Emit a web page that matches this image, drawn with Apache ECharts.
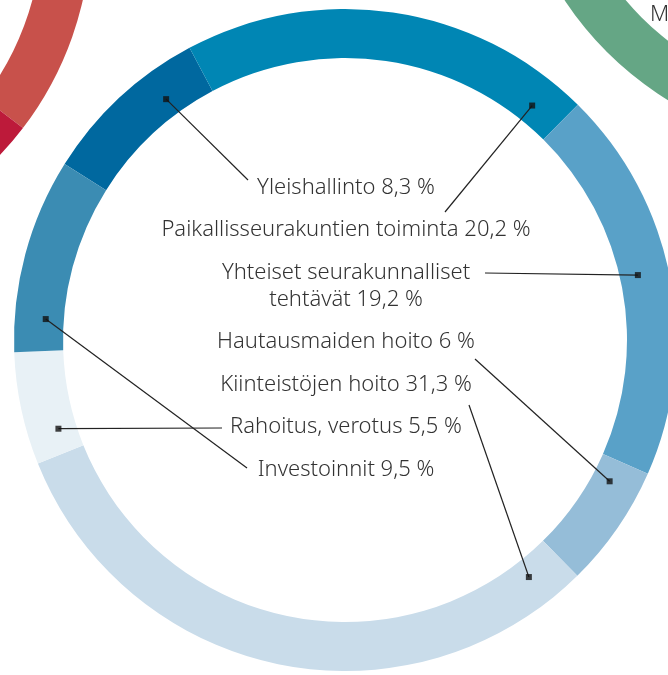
<!DOCTYPE html>
<html>
<head>
<meta charset="utf-8">
<script src="https://cdn.jsdelivr.net/npm/echarts@6/dist/echarts.min.js"></script>
<style>
  html, body { margin: 0; padding: 0; background: #fff; }
  #main { width: 668px; height: 675px; }
</style>
</head>
<body>
<div id="main"></div>
<script>
// categories and shares (%) of the main ring
const categories = [
  "Yleishallinto",
  "Paikallisseurakuntien toiminta",
  "Yhteiset seurakunnalliset\ntehtävät",
  "Hautausmaiden hoito",
  "Kiinteistöjen hoito",
  "Rahoitus, verotus",
  "Investoinnit"
];
const shares = [8.3, 20.2, 19.2, 6, 31.3, 5.5, 9.5];

// neighbouring rings, only partly visible at the corners
const redRingValues = [30, 70];
const greenRingValues = [100];

// styles
const colors = ["#00689f", "#0086b4", "#59a1c8", "#95bdd8", "#c9dcea", "#e8f1f6", "#3b8cb3"];
const redColors = ["#c8514b", "#bd1a3a"];
const greenColors = ["#65a685"];
const fontName = "Noto Sans";

// layout: ring center / radii, marker angle (deg clockwise from top), label y, line end at label
const cx = 345, cy = 340;
const ringRadius = [282, 331];
const markerR = 300;
const markerAngles = [323.4, 38.6, 77.5, 118.1, 142.2, 252.8, 274.0];
const labelY = [188, 230, 286.5, 342, 385, 427, 470];
const lineEnd = [[248, 180], [445, 212], [485, 273], [475, 359], [469, 405], [222, 428], [247, 468]];

function fmt(v) {
  return String(v).replace(".", ",") + " %";
}

function markerPoint(i) {
  const a = markerAngles[i] * Math.PI / 180;
  return [cx + markerR * Math.sin(a), cy - markerR * Math.cos(a)];
}

let chart = echarts.init(document.getElementById("main"));

chart.setOption({
  animation: false,
  textStyle: { fontFamily: fontName },
  polar: { center: [cx, cy], radius: ringRadius[1] },
  angleAxis: { type: "value", min: 0, max: 360, startAngle: 90, clockwise: true, show: false },
  radiusAxis: { type: "value", min: 0, max: ringRadius[1], show: false },
  graphic: [
    { type: "text", left: 650, top: 4, style: { text: "M", font: "300 22px '" + fontName + "'", fill: "#333" } }
  ],
  series: [
    {
      type: "pie",
      silent: true,
      center: [-240, -73],
      radius: ringRadius,
      startAngle: 70.6,
      label: { show: false },
      labelLine: { show: false },
      data: redRingValues.map((v, i) => ({ value: v, itemStyle: { color: redColors[i] } }))
    },
    {
      type: "pie",
      silent: true,
      center: [841, -182],
      radius: ringRadius,
      label: { show: false },
      labelLine: { show: false },
      data: greenRingValues.map((v, i) => ({ value: v, itemStyle: { color: greenColors[i] } }))
    },
    // ring sectors
    {
      type: "pie",
      silent: true,
      center: [cx, cy],
      radius: ringRadius,
      startAngle: 147.9,
      clockwise: true,
      itemStyle: { borderWidth: 0 },
      label: { show: false },
      labelLine: { show: false },
      data: categories.map((c, i) => ({ name: c, value: shares[i], itemStyle: { color: colors[i] } }))
    },
    // same ring, transparent, carrying the labels and leader lines on top
    {
      type: "pie",
      silent: true,
      z: 5,
      center: [cx, cy],
      radius: ringRadius,
      startAngle: 147.9,
      clockwise: true,
      avoidLabelOverlap: false,
      minShowLabelAngle: 0,
      itemStyle: { color: "rgba(0,0,0,0)", borderWidth: 0 },
      label: {
        show: true,
        position: "outside",
        formatter: p => p.name + " " + fmt(p.value),
        color: "#333",
        fontSize: 22,
        fontWeight: 300,
        fontFamily: fontName,
        lineHeight: 27,
        align: "center"
      },
      labelLine: {
        show: true,
        lineStyle: { color: "#222", width: 1.2 }
      },
      labelLayout: function (params) {
        const i = params.dataIndex;
        const m = markerPoint(i);
        const e = lineEnd[i];
        return {
          x: cx + 1,
          y: labelY[i],
          align: "center",
          verticalAlign: "middle",
          labelLinePoints: [m, m, e]
        };
      },
      data: categories.map((c, i) => ({ name: c, value: shares[i] }))
    },
    {
      type: "scatter",
      coordinateSystem: "polar",
      silent: true,
      z: 6,
      symbol: "rect",
      symbolSize: 6,
      itemStyle: { color: "#111" },
      data: markerAngles.map(a => [markerR, a])
    }
  ]
});

window.addEventListener("resize", function () {
  chart.resize();
});
</script>
</body>
</html>
